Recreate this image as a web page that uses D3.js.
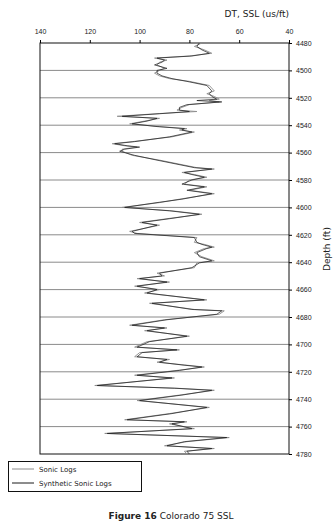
<!DOCTYPE html>
<html>
<head>
<meta charset="utf-8">
<script src="https://cdn.jsdelivr.net/npm/d3@7"></script>
<style>
  body { margin: 0; background: #fff; }
  svg { display: block; font-family: "DejaVu Sans", sans-serif; }
</style>
</head>
<body>
<svg id="chart" width="335" height="524"></svg>
<script>
// depths (ft)
const depths = [4480, 4482.5, 4485, 4487.5, 4489.5, 4491, 4492.5, 4494, 4496, 4498.5,
  4500, 4502, 4504, 4506, 4508, 4511, 4515, 4517, 4519, 4521,
  4522, 4523, 4525, 4527, 4529, 4530, 4531.5, 4533.5, 4535, 4537,
  4539, 4541, 4542.5, 4543.5, 4545, 4548.5, 4552, 4553.5, 4555, 4556,
  4557.5, 4559, 4562, 4565.5, 4571, 4572, 4574.5, 4576, 4578, 4580,
  4583, 4585, 4587.5, 4590, 4594, 4596.5, 4600, 4602.5, 4605, 4608,
  4611, 4613, 4617.5, 4619, 4622, 4625.5, 4627, 4629, 4630, 4633,
  4636, 4639, 4640.5, 4644, 4648, 4650, 4652, 4654.5, 4657.5, 4660,
  4662.5, 4667.5, 4670, 4674.5, 4675.5, 4678, 4682, 4686, 4688, 4690,
  4694, 4698, 4702, 4704, 4706, 4709, 4711, 4713, 4715, 4716.5,
  4719, 4722.5, 4724.5, 4730, 4732, 4733.5, 4737, 4741, 4746, 4750.5,
  4755, 4756.5, 4758, 4761.5, 4765, 4768, 4771, 4774, 4776, 4778,
  4780];

// DT (us/ft)
const sonic = [75, 78, 74, 71, 80, 94, 89, 92, 93, 90,
  92, 94, 92, 88, 80, 72, 70, 73, 70, 68,
  72, 68, 80, 83, 85, 77, 92, 109, 92, 98,
  104, 92, 81, 84, 78, 87, 103, 111, 106, 101,
  107, 107, 103, 92, 77, 70, 83, 78, 73, 80,
  82, 73, 80, 70, 84, 92, 107, 87, 75, 88,
  100, 92, 104, 101, 77, 78, 74, 70, 74, 78,
  75, 70, 77, 78, 93, 90, 101, 88, 102, 92,
  98, 73, 96, 78, 66, 68, 90, 104, 89, 98,
  80, 97, 102, 84, 100, 102, 88, 93, 82, 74,
  85, 102, 86, 118, 85, 70, 84, 101, 72, 88,
  106, 81, 88, 78, 114, 64, 81, 90, 70, 82,
  81];

const synthetic = [76, 77, 75, 72, 79, 93, 90, 91, 94, 89,
  93, 93, 91, 87, 81, 73, 71, 72, 71, 69,
  77, 67, 81, 84, 84, 80, 91, 107, 93, 97,
  103, 93, 82, 83, 79, 88, 102, 110, 105, 100,
  106, 108, 102, 93, 78, 71, 82, 79, 74, 79,
  83, 74, 81, 71, 83, 93, 106, 88, 76, 87,
  99, 93, 103, 102, 78, 77, 75, 71, 73, 77,
  76, 71, 76, 79, 92, 91, 100, 89, 101, 93,
  97, 74, 95, 79, 67, 69, 89, 103, 90, 97,
  81, 96, 101, 85, 99, 101, 89, 92, 83, 75,
  84, 101, 87, 117, 86, 71, 83, 100, 73, 87,
  105, 82, 87, 79, 113, 65, 82, 89, 71, 81,
  80];

const xTicks = [140, 120, 100, 80, 60, 40];
const depthTicks = [4480, 4500, 4520, 4540, 4560, 4580, 4600, 4620, 4640,
  4660, 4680, 4700, 4720, 4740, 4760, 4780];

const svg = d3.select("#chart");
const plotLeft = 40, plotRight = 289, plotTop = 43, plotBottom = 454;

const x = d3.scaleLinear().domain([140, 40]).range([plotLeft, plotRight]);
const y = d3.scaleLinear().domain([4480, 4780]).range([plotTop, plotBottom]);

// horizontal grid
svg.append("g")
  .selectAll("line")
  .data(depthTicks.slice(1, -1))
  .join("line")
  .attr("x1", plotLeft).attr("x2", plotRight)
  .attr("y1", d => y(d)).attr("y2", d => y(d))
  .attr("stroke", "#8a8a8a")
  .attr("stroke-width", 1);

// frame
svg.append("rect")
  .attr("x", plotLeft).attr("y", plotTop)
  .attr("width", plotRight - plotLeft).attr("height", plotBottom - plotTop)
  .attr("fill", "none")
  .attr("stroke", "#111")
  .attr("stroke-width", 1);

// top axis
const xAxis = svg.append("g")
  .attr("transform", `translate(0,${plotTop})`)
  .call(d3.axisTop(x).tickValues(xTicks).tickSize(3).tickPadding(6));
xAxis.select(".domain").remove();
xAxis.selectAll("text").attr("font-size", 7).attr("fill", "#222");

// right axis
const yAxis = svg.append("g")
  .attr("transform", `translate(${plotRight},0)`)
  .call(d3.axisRight(y).tickValues(depthTicks).tickSize(3).tickPadding(4).tickFormat(d3.format("d")));
yAxis.select(".domain").remove();
yAxis.selectAll("text").attr("font-size", 7).attr("fill", "#222");

const line = d3.line()
  .x(d => x(d[1]))
  .y(d => y(d[0]));

svg.append("path")
  .datum(depths.map((d, i) => [d, sonic[i]]))
  .attr("d", line)
  .attr("fill", "none")
  .attr("stroke", "#8c8c8c")
  .attr("stroke-width", 0.9);

svg.append("path")
  .datum(depths.map((d, i) => [d, synthetic[i]]))
  .attr("d", line)
  .attr("fill", "none")
  .attr("stroke", "#1a1a1a")
  .attr("stroke-width", 0.7);

// titles
svg.append("text")
  .attr("x", plotRight).attr("y", 17)
  .attr("text-anchor", "end")
  .attr("font-size", 9)
  .attr("fill", "#222")
  .text("DT, SSL (us/ft)");

svg.append("text")
  .attr("transform", `translate(330,249) rotate(-90)`)
  .attr("text-anchor", "middle")
  .attr("font-size", 9)
  .attr("fill", "#222")
  .text("Depth (ft)");

// legend
const legend = svg.append("g");
legend.append("rect")
  .attr("x", 8.5).attr("y", 461.5)
  .attr("width", 133).attr("height", 30)
  .attr("fill", "none")
  .attr("stroke", "#111");

const items = [
  { label: "Sonic Logs", color: "#8c8c8c", yy: 469 },
  { label: "Synthetic Sonic Logs", color: "#1a1a1a", yy: 483 }
];
items.forEach(it => {
  legend.append("line")
    .attr("x1", 12).attr("x2", 34)
    .attr("y1", it.yy).attr("y2", it.yy)
    .attr("stroke", it.color)
    .attr("stroke-width", 1);
  legend.append("text")
    .attr("x", 39).attr("y", it.yy + 2.5)
    .attr("font-size", 7)
    .attr("fill", "#222")
    .text(it.label);
});

// caption
const cap = svg.append("text")
  .attr("x", 171).attr("y", 519)
  .attr("text-anchor", "middle")
  .attr("font-size", 9)
  .attr("fill", "#222");
cap.append("tspan").attr("font-weight", "bold").text("Figure 16");
cap.append("tspan").text(" Colorado 75 SSL");
</script>
</body>
</html>
